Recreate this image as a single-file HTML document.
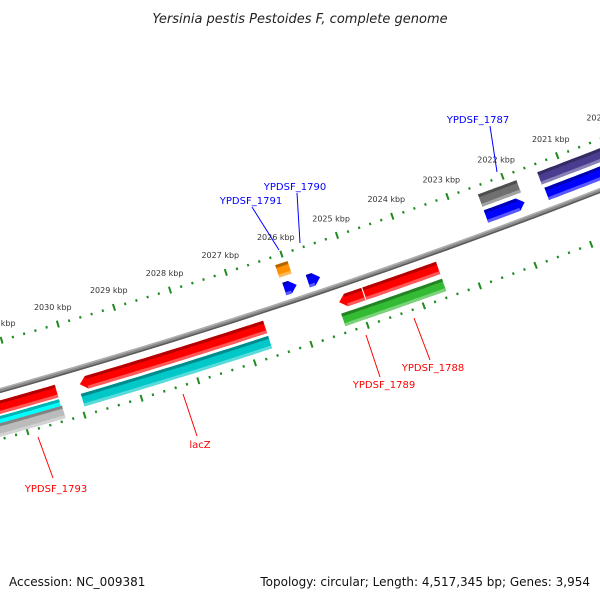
<!DOCTYPE html>
<html><head><meta charset="utf-8"><style>
html,body{margin:0;padding:0;background:#fff;}
svg{display:block;font-family:"DejaVu Sans","Liberation Sans",sans-serif;}
</style></head><body>
<svg id="map" width="600" height="600" viewBox="0 0 600 600">
<text x="300" y="23" text-anchor="middle" font-size="13" font-style="italic" fill="#222">Yersinia pestis Pestoides F, complete genome</text>
<g id="plot"></g>
<g font-size="10">
 <line x1="490" y1="126" x2="497" y2="172" stroke="#00f" stroke-width="1"/>
 <text x="478" y="123" text-anchor="middle" fill="#00f">YPDSF_1787</text>
 <line x1="297" y1="193" x2="300" y2="243" stroke="#00f" stroke-width="1"/>
 <text x="295" y="190" text-anchor="middle" fill="#00f">YPDSF_1790</text>
 <line x1="252" y1="207" x2="279" y2="250" stroke="#00f" stroke-width="1"/>
 <text x="251" y="204" text-anchor="middle" fill="#00f">YPDSF_1791</text>
 <line x1="38" y1="437" x2="53" y2="478" stroke="#f00" stroke-width="1"/>
 <text x="56" y="492" text-anchor="middle" fill="#f00">YPDSF_1793</text>
 <line x1="183" y1="394" x2="197" y2="436" stroke="#f00" stroke-width="1"/>
 <text x="200" y="448" text-anchor="middle" fill="#f00">lacZ</text>
 <line x1="366" y1="335" x2="380" y2="377" stroke="#f00" stroke-width="1"/>
 <text x="384" y="388" text-anchor="middle" fill="#f00">YPDSF_1789</text>
 <line x1="414" y1="318" x2="430" y2="360" stroke="#f00" stroke-width="1"/>
 <text x="433" y="371" text-anchor="middle" fill="#f00">YPDSF_1788</text>
</g>
<text x="9" y="586" font-size="12" fill="#111">Accession: NC_009381</text>
<text x="590" y="586" font-size="12" text-anchor="end" fill="#111">Topology: circular; Length: 4,517,345 bp; Genes: 3,954</text>
</svg>
<script>
// ---- data ----
const majorTicks = [2031, 2030, 2029, 2028, 2027, 2026, 2025, 2024, 2023, 2022, 2021, 2020];
const tickLabels = ["2031 kbp","2030 kbp","2029 kbp","2028 kbp","2027 kbp","2026 kbp","2025 kbp","2024 kbp","2023 kbp","2022 kbp","2021 kbp","2020 kbp"];
const featNames  = ["ypdsf-1793","ypdsf-1793-cyan","ypdsf-1793-gray","lacz","lacz-cyan","ypdsf-1789","ypdsf-1788","ypdsf-1788-green","orange-1791","ypdsf-1791","ypdsf-1790","ypdsf-1787-gray","ypdsf-1787","purple-1786","ypdsf-1786"];
const featStart  = [2031.6, 2031.6, 2031.6, 2029.93, 2029.96, 2025.33, 2024.88, 2025.36, 2026.16, 2026.14, 2025.72, 2022.5, 2022.5, 2021.42, 2021.4];
const featEnd    = [2030.34, 2030.34, 2030.32, 2026.65, 2026.65, 2024.9, 2023.56, 2023.56, 2025.94, 2025.92, 2025.5, 2021.8, 2021.8, 2019.5, 2019.5];
const featRow    = [16, 31, 38, 16, 32, 16, 16, 34, -33, -14, -14, -33, -16, -33, -16];
const featArrow  = ["L","", "", "L", "", "L", "", "", "", "R", "R", "", "R", "", ""];
const featColor  = ["#ff0000","#00ffff","#bbbbbb","#ff0000","#00c8c8","#ff0000","#ff0000","#33bb33","#ff9000","#0000ff","#0000ff","#707070","#0000ff","#4a3d8f","#0000ff"];
// ---- geometry ----
const CX=-1782, CY=-5956, R0=6592, K0=2030, TH0=1.2858, DTH=0.00895;
function th(k){return TH0+(k-K0)*DTH;}
function pt(k,r){const t=th(k);return [CX+r*Math.cos(t), CY+r*Math.sin(t)];}
const NS="http://www.w3.org/2000/svg";
const plot=document.getElementById('plot');
function arcPts(k1,k2,r){const n=24,a=[];for(let i=0;i<=n;i++){a.push(pt(k1+(k2-k1)*i/n,r));}return a;}
function band(k1,k2,ri,ro){const a=arcPts(k1,k2,ri),b=arcPts(k2,k1,ro);return a.concat(b);}
function poly(points,fill,name){
  const p=document.createElementNS(NS,'polygon');
  p.setAttribute('points',points.map(q=>q[0].toFixed(1)+','+q[1].toFixed(1)).join(' '));
  p.setAttribute('fill',fill);
  
  
  plot.appendChild(p);return p;
}
function shade(hex,f){const n=parseInt(hex.slice(1),16);let r=n>>16,g=(n>>8)&255,b=n&255;
  if(f<0){r*=1+f;g*=1+f;b*=1+f;}else{r+=(255-r)*f;g+=(255-g)*f;b+=(255-b)*f;}
  return 'rgb('+Math.round(r)+','+Math.round(g)+','+Math.round(b)+')';}
// backbone
poly(band(2032,2019,R0-2.5,R0+2.5),'#8a8a8a','backbone');
poly(band(2032,2019,R0-2.5,R0-1),'#b0b0b0','backbone-highlight');
poly(band(2032,2019,R0+1,R0+2.5),'#5a5a5a','backbone-shadow');
// rulers
function ruler(r,name){
  for(let i=0;i<=65;i++){
    const k=2032-i*0.2;const major=Math.abs(k-Math.round(k))<1e-6;
    const len=major?7:2.5,w=major?2:2;
    const t=th(k),dk=(w/2)/(R0*DTH);
    const pts=[pt(k+dk,r-len/2),pt(k-dk,r-len/2),pt(k-dk,r+len/2),pt(k+dk,r+len/2)];
    poly(pts,'#1f8a1f',major?name+'-major-tick':name+'-minor-tick');
  }
}
ruler(R0-48,'outer-ruler');
ruler(R0+47,'inner-ruler');
majorTicks.forEach((k,i)=>{
  const p=pt(k,R0-66);
  const t=document.createElementNS(NS,'text');
  t.setAttribute('x',p[0].toFixed(1));t.setAttribute('y',(p[1]+3).toFixed(1));
  t.setAttribute('text-anchor','middle');t.setAttribute('font-size','8');t.setAttribute('fill','#333');
  t.textContent=tickLabels[i];
  
  
  plot.appendChild(t);
});
// features
const H=13, tipK=7/(R0*DTH);
featNames.forEach((nm,i)=>{
  const k1=featStart[i],k2=featEnd[i],rc=R0+featRow[i],ri=rc-H/2,ro=rc+H/2,c=featColor[i];
  let a=k1,b=k2;
  if(featArrow[i]==='L')a=k1-tipK;
  if(featArrow[i]==='R')b=k2+tipK;
  let pts=band(a,b,ri,ro);
  if(featArrow[i]==='L'){pts=arcPts(a,b,ri).concat(arcPts(b,a,ro)).concat([pt(k1,rc)]);}
  if(featArrow[i]==='R'){pts=arcPts(a,b,ri).concat([pt(k2,rc)]).concat(arcPts(b,a,ro));}
  poly(pts,c,'feature-'+nm);
  poly(band(a,b,ri,ri+3),shade(c,-0.3),'feature-'+nm+'-top');
  poly(band(a,b,ro-3,ro),shade(c,0.35),'feature-'+nm+'-bottom');
});
</script>
</body></html>
